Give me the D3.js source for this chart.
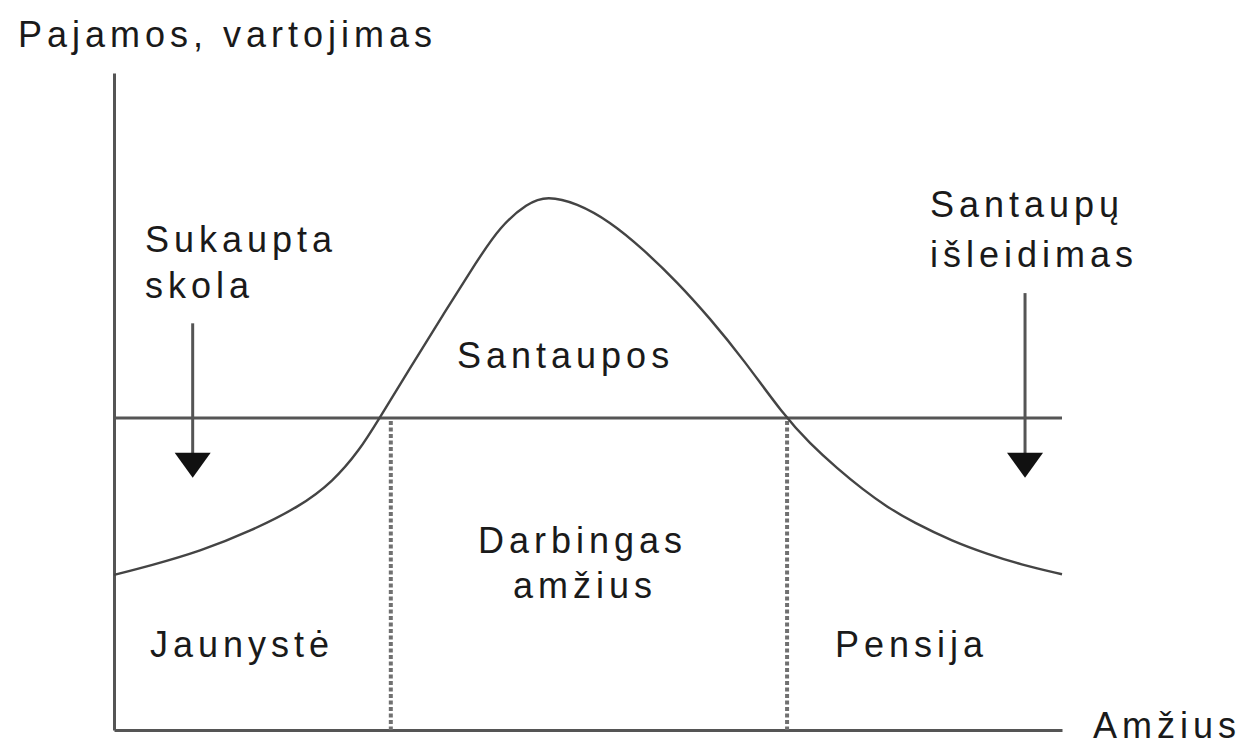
<!DOCTYPE html>
<html>
<head>
<meta charset="utf-8">
<script src="https://cdn.jsdelivr.net/npm/d3@7"></script>
<style>
  html, body { margin: 0; padding: 0; background: #fff; }
  svg { display: block; }
  text { font-family: "Liberation Sans", Arial, sans-serif; font-size: 36px; fill: #1a1a1a; letter-spacing: 5px; }
</style>
</head>
<body>
<div class="container"></div>
<script>
// life-cycle income curve (age 0..100 on x, level 0..100 on y)
const age = [0, 3.8, 9.1, 14.3, 19.6, 23.1, 25.9, 27.8, 31.2, 34.7, 38.3, 40.7, 43.6, 45.7, 48.8, 52.3, 55.8, 59.4, 62.9, 66.4, 70.6, 73.4, 76.3, 79.0, 81.5, 84.3, 88.5, 92.1, 95.6, 100];
const income = [23.6, 25.0, 27.2, 30.2, 34.0, 37.8, 42.6, 47.0, 55.0, 63.2, 71.4, 76.6, 80.2, 81.3, 80.2, 77.4, 73.2, 68.2, 62.6, 56.4, 48.0, 43.6, 39.8, 36.6, 34.0, 31.6, 28.7, 26.8, 25.2, 23.7];
const consumption = 47.5;
const phaseBounds = [29.2, 71.0];
const arrowX = [8.3, 96.1];
const arrowTop = [61.9, 66.5];
const arrowTip = 38.4;

const yTitle = "Pajamos, vartojimas";
const xTitle = "Amžius";
const labels = [["Sukaupta", "skola"], ["Santaupų", "išleidimas"], ["Santaupos"], ["Darbingas", "amžius"], ["Jaunystė"], ["Pensija"]];

const width = 1252, height = 745;
const margin = {top: 73, right: 190, bottom: 15, left: 114};

const svg = d3.select("div.container").append("svg")
    .attr("width", width)
    .attr("height", height);

const x = d3.scaleLinear().domain([0, 100]).range([margin.left, width - margin.right]);
const y = d3.scaleLinear().domain([0, 100]).range([height - margin.bottom, margin.top]);

// axes, no ticks
svg.append("g")
    .attr("transform", `translate(0,${y(0)})`)
    .call(d3.axisBottom(x).tickValues([]).tickSizeOuter(0))
    .select(".domain").attr("stroke", "#555").attr("stroke-width", 3);
svg.append("g")
    .attr("transform", `translate(${x(0)},0)`)
    .call(d3.axisLeft(y).tickValues([]).tickSizeOuter(0))
    .select(".domain").attr("stroke", "#555").attr("stroke-width", 3);

// consumption line
svg.append("line")
    .attr("x1", x(0)).attr("x2", x(100))
    .attr("y1", y(consumption)).attr("y2", y(consumption))
    .attr("stroke", "#555").attr("stroke-width", 3);

// dotted phase boundaries
svg.selectAll("line.phase")
    .data(phaseBounds)
    .enter().append("line")
    .attr("class", "phase")
    .attr("x1", d => x(d)).attr("x2", d => x(d))
    .attr("y1", y(consumption) + 3).attr("y2", y(0))
    .attr("stroke", "#707070").attr("stroke-width", 4)
    .attr("stroke-dasharray", "4,2.5");

// income curve
const pts = age.map((a, i) => [a, income[i]]);
svg.append("path")
    .datum(pts)
    .attr("fill", "none")
    .attr("stroke", "#444")
    .attr("stroke-width", 2.4)
    .attr("d", d3.line().x(d => x(d[0])).y(d => y(d[1])).curve(d3.curveBasis));

// arrows
arrowX.forEach((ax, i) => {
  const tipY = y(arrowTip);
  svg.append("line")
      .attr("x1", x(ax)).attr("x2", x(ax))
      .attr("y1", y(arrowTop[i])).attr("y2", tipY - 20)
      .attr("stroke", "#555").attr("stroke-width", 3);
  svg.append("path")
      .attr("d", `M${x(ax) - 18},${tipY - 25}L${x(ax) + 18},${tipY - 25}L${x(ax)},${tipY}Z`)
      .attr("fill", "#111");
});

// texts
svg.append("text").attr("x", 18).attr("y", 47).text(yTitle);
svg.append("text").attr("x", 1093).attr("y", 738).text(xTitle);

const labelPos = [[145, 252, 46], [930, 217, 50], [457, 368, 0], [478, 553, 45], [150, 657, 0], [835, 657, 0]];
const lineIndent = [[0, 0], [0, 0], [0], [0, 35], [0], [0]];
labels.forEach((lines, i) => {
  lines.forEach((t, j) => {
    svg.append("text")
        .attr("x", labelPos[i][0] + lineIndent[i][j])
        .attr("y", labelPos[i][1] + j * labelPos[i][2])
        .text(t);
  });
});
</script>
</body>
</html>
